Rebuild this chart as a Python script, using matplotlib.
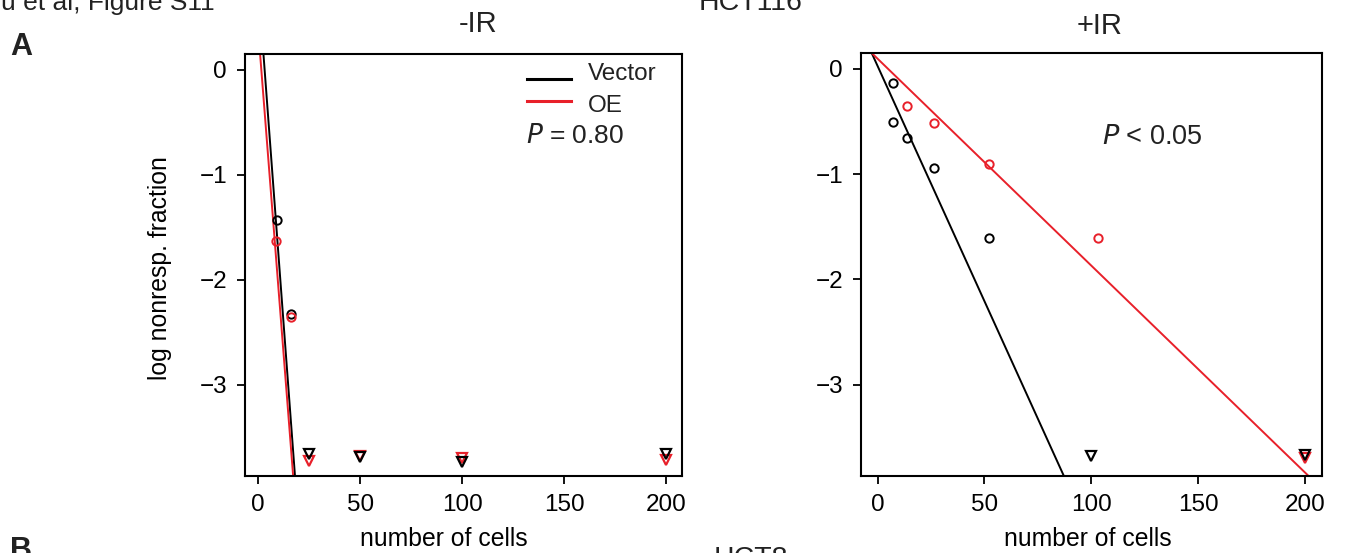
import matplotlib
matplotlib.use("Agg")
import matplotlib.pyplot as plt
from matplotlib.lines import Line2D

plt.rcParams['font.family'] = ['Liberation Sans', 'DejaVu Sans']
plt.rcParams['axes.unicode_minus'] = True

RED = '#e8202a'
W, H = 1354, 553

# -IR panel
noir_vec_x = [9.2, 16.2]
noir_vec_y = [-1.43, -2.32]
noir_oe_x = [8.8, 16.2]
noir_oe_y = [-1.63, -2.35]
noir_cens_x = [25, 50, 100, 200]
noir_cens_vec_y = [-3.66, -3.69, -3.73, -3.66]
noir_cens_oe_y = [-3.72, -3.68, -3.70, -3.71]
noir_vec_fit = (0.839, -0.260)   # intercept, slope
noir_oe_fit = (0.399, -0.248)

# +IR panel
ir_vec_x = [7.0, 7.0, 13.6, 26.4, 52.0]
ir_vec_y = [-0.13, -0.50, -0.66, -0.945, -1.61]
ir_oe_x = [13.6, 26.4, 52.0, 103.0]
ir_oe_y = [-0.355, -0.51, -0.90, -1.605]
ir_cens_vec_x = [100, 200]
ir_cens_vec_y = [-3.68, -3.67]
ir_cens_oe_x = [200]
ir_cens_oe_y = [-3.70]
ir_vec_fit = (0.027, -0.04467)
ir_oe_fit = (0.097, -0.01965)

xticks = [0, 50, 100, 150, 200]
yticks = [0, -1, -2, -3]
ylim = (-3.867, 0.152)


def px(x, y):
    return x / W, 1 - y / H


def box(l, t, r, b):
    return [l / W, 1 - b / H, (r - l) / W, (b - t) / H]


def panel(ax, xlim, pts, cens, fits):
    ax.set_xlim(*xlim)
    ax.set_ylim(*ylim)
    for (a, s), c in fits:
        xs = [xlim[0], xlim[1]]
        ax.plot(xs, [a + s * xs[0], a + s * xs[1]], color=c, lw=1.4, zorder=2)
    for xs, ys, c in pts:
        ax.plot(xs, ys, 'o', ms=6, mfc='none', mec=c, mew=1.4, zorder=3)
    for xs, ys, c in cens:
        ax.plot(xs, ys, 'v', ms=7, mfc='none', mec=c, mew=1.6, zorder=3)
    ax.set_xticks(xticks)
    ax.set_yticks(yticks)
    ax.tick_params(direction='out', length=6, width=1.3, labelsize=17.5, pad=7)
    for sp in ax.spines.values():
        sp.set_linewidth(1.5)


fig = plt.figure(figsize=(W / 100, H / 100), dpi=100)

ax1 = fig.add_axes(box(245, 54, 682, 476))
panel(ax1, (-6.4, 207.8),
      [(noir_vec_x, noir_vec_y, 'black'), (noir_oe_x, noir_oe_y, RED)],
      [(noir_cens_x, noir_cens_oe_y, RED), (noir_cens_x, noir_cens_vec_y, 'black')],
      [(noir_vec_fit, 'black'), (noir_oe_fit, RED)])

ax2 = fig.add_axes(box(861, 53, 1322, 476))
panel(ax2, (-7.8, 208),
      [(ir_vec_x, ir_vec_y, 'black'), (ir_oe_x, ir_oe_y, RED)],
      [(ir_cens_oe_x, ir_cens_oe_y, RED), (ir_cens_vec_x, ir_cens_vec_y, 'black')],
      [(ir_vec_fit, 'black'), (ir_oe_fit, RED)])

# legend drawn by hand
for yy, c in [(79.3, 'black'), (101.3, RED)]:
    (x0, y0), (x1, _) = px(527, yy), px(571, yy)
    fig.add_artist(Line2D([x0, x1], [y0, y0], color=c, lw=2.2))
fig.text(*px(588, 79.5), 'Vector', fontsize=17.5, va='baseline', color='#222222')
fig.text(*px(588, 111.5), 'OE', fontsize=17.5, va='baseline', color='#222222')
fig.text(*px(526, 143), r'$\it{P}$ = 0.80', fontsize=19, va='baseline', color='#222222')
fig.text(*px(1102, 144), r'$\it{P}$ < 0.05', fontsize=19.5, va='baseline', color='#222222')

# panel titles and labels
fig.text(*px(478, 32), '-IR', fontsize=21, ha='center', va='baseline', color='#222222')
fig.text(*px(1100, 34), '+IR', fontsize=21, ha='center', va='baseline', color='#222222')
fig.text(*px(751, 10), 'HCT116', fontsize=20.5, ha='center', va='baseline', color='#222222')
fig.text(*px(751, 566), 'HCT8', fontsize=20.5, ha='center', va='baseline', color='#222222')
fig.text(*px(1, 10), 'u et al, Figure S11', fontsize=19, ha='left', va='baseline', color='#222222')
fig.text(*px(10, 55), 'A', fontsize=22, fontweight='bold', va='baseline', color='#222222')
fig.text(*px(10, 559), 'B', fontsize=22, fontweight='bold', va='baseline', color='#222222')
fig.text(*px(444, 546), 'number of cells', fontsize=17.8, ha='center', va='baseline')
fig.text(*px(1088, 546), 'number of cells', fontsize=17.8, ha='center', va='baseline')
fig.text(*px(160, 268), 'log nonresp. fraction', fontsize=17.8, rotation=90,
         ha='center', va='center')

fig.savefig('out.png', dpi=100)
